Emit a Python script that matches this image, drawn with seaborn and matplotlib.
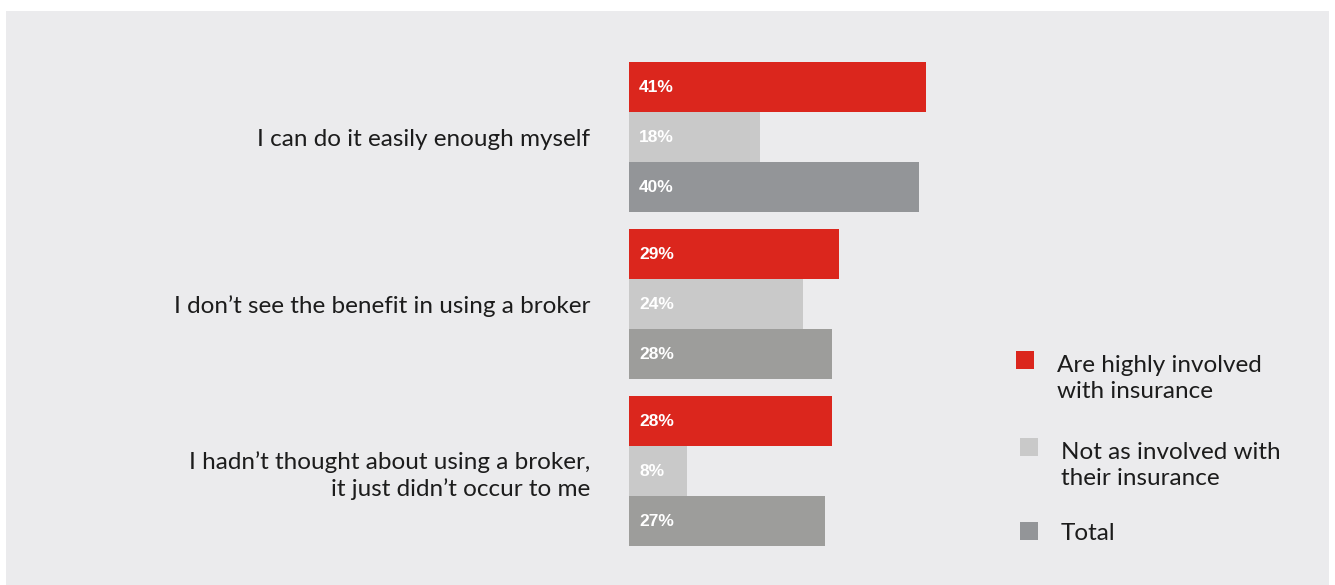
import matplotlib
matplotlib.use("Agg")
import matplotlib.pyplot as plt
from matplotlib.patches import Rectangle
import pandas as pd
import seaborn as sns

# ---- data -------------------------------------------------------------
reasons = [
    "I can do it easily enough myself",
    "I don\u2019t see the benefit in using a broker",
    "I hadn\u2019t thought about using a broker,\nit just didn\u2019t occur to me",
]
groups = [
    "Are highly involved\nwith insurance",
    "Not as involved with\ntheir insurance",
    "Total",
]
highly_involved = [41, 29, 28]
not_as_involved = [18, 24, 8]
total = [40, 28, 27]

# ---- styling ----------------------------------------------------------
W, H = 1335, 585
BG = "#EBEBED"
RED = "#DB261D"
LIGHT = "#C9C9C9"
TOTAL = "#939598"
TOTAL_ALT = "#9D9D9B"
TEXT = "#1C1C1C"
FONT = ["Lato", "DejaVu Sans"]
PX_PER_PCT = 7.25
LABEL_SIZE = 17.5

sns.set_theme(style="white")
plt.rcParams["font.family"] = FONT

df = pd.DataFrame({
    "reason": reasons * 3,
    "group": [g for g in groups for _ in reasons],
    "value": highly_involved + not_as_involved + total,
})

fig = plt.figure(figsize=(W / 100, H / 100), dpi=100)
fig.patch.set_facecolor("white")


def fx(px):
    return px / W


def fy(py):
    return 1 - py / H


# grey panel behind everything
fig.patches.append(Rectangle((fx(6), 0), fx(1323), 574 / H, transform=fig.transFigure,
                             facecolor=BG, edgecolor="none", zorder=-5))

ax_left, ax_right = 629, 990
ax = fig.add_axes([fx(ax_left), 0, fx(ax_right - ax_left), 574 / H])
ax.set_facecolor("none")
ax.set_zorder(1)

sns.barplot(data=df, y="reason", x="value", hue="group", hue_order=groups,
            order=reasons, palette=[RED, LIGHT, TOTAL], orient="h",
            width=0.898, gap=0, saturation=1, legend=False, linewidth=0,
            edgecolor="none", ax=ax)

# the "Total" bars of the second and third reason use a warmer grey
for p in ax.containers[2].patches[1:]:
    p.set_facecolor(TOTAL_ALT)

unit_px = 167.0
center0_px = 137.0
ax.set_ylim((585 - center0_px) / unit_px, -(center0_px - 11) / unit_px)
ax.set_xlim(0, (ax_right - ax_left) / PX_PER_PCT)

# value labels at the inner start of each bar
for container in ax.containers:
    for p in container.patches:
        val = p.get_width()
        ax.text(10 / PX_PER_PCT, p.get_y() + p.get_height() / 2 + 0.005,
                f"{val:.0f}%", color="white", fontsize=12.5, fontweight="bold",
                family=["Liberation Sans", "DejaVu Sans"],
                ha="left", va="center")

ax.set_xlabel("")
ax.set_ylabel("")
ax.set_xticks([])
ax.tick_params(axis="y", length=0, pad=28, labelsize=LABEL_SIZE, labelcolor=TEXT)
for lbl in ax.get_yticklabels():
    lbl.set_linespacing(1.3)
for s in ax.spines.values():
    s.set_visible(False)

# legend: swatch aligned with the first line of each entry
# (text y is the baseline of the last line)
legend_items = [
    (groups[0], RED, 1016, 351, 1057, 398),
    (groups[1], LIGHT, 1020, 438, 1061, 485),
    (groups[2], TOTAL, 1020, 522, 1061, 540),
]
for label, color, sx, sy, tx, ty in legend_items:
    fig.patches.append(Rectangle((fx(sx), fy(sy + 18)), fx(18), 18 / H,
                                 transform=fig.transFigure, facecolor=color,
                                 edgecolor="none", zorder=2))
    fig.text(fx(tx), fy(ty), label, fontsize=LABEL_SIZE, color=TEXT, ha="left",
             va="baseline", linespacing=1.32)

fig.savefig("out.png", dpi=100, facecolor=fig.get_facecolor())
